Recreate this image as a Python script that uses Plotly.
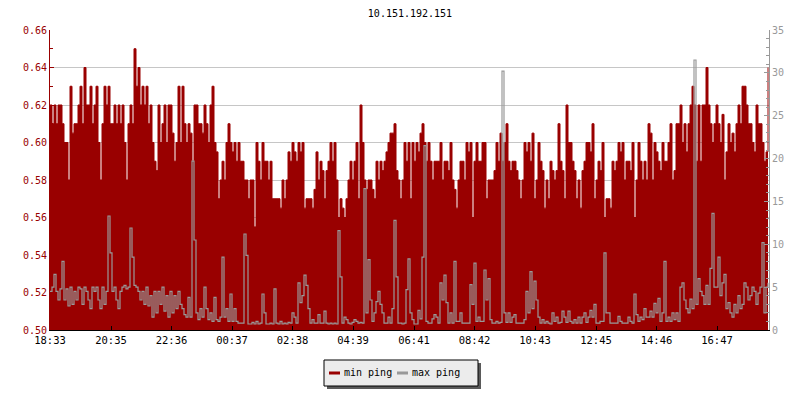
import plotly.graph_objects as go

# ---------------- data ----------------
chart_title = "10.151.192.151"
series_names = ["min ping", "max ping"]
start_label = "18:33"
step_minutes = 4  # one sample every 4 minutes (2 px in the reference)

tick_labels = ["18:33", "20:35", "22:36", "00:37", "02:38", "04:39",
               "06:41", "08:42", "10:43", "12:45", "14:46", "16:47"]

# min ping, in hundredths of a ms (left axis, 0.50 .. 0.66)
min_ping_a = [62, 61, 62, 61, 62, 62, 61, 60, 60, 58, 63, 60.5, 61, 61, 62,
              63, 61, 64, 62, 62, 63, 61, 62, 63, 60, 58, 61, 63, 62, 63,
              61, 61, 62, 61, 62, 61, 62, 60, 58, 61, 62, 61, 65, 63, 64,
              62, 63, 62, 63, 61, 62, 60, 59, 58.5, 62, 60, 61, 62, 60, 62]
min_ping_b = [62, 60.5, 59, 60, 63, 60, 63, 61, 60, 61, 60.5, 59, 62, 62, 61,
              61, 60.5, 62, 61, 60, 62, 63, 60, 59.5, 57, 58, 59, 58, 60, 61,
              60, 59.5, 60, 59, 60, 59, 59, 58, 58, 57, 58, 58, 55.5, 60, 59,
              58, 60, 59, 59, 58, 59, 57, 57, 57, 57, 56.5, 58, 57, 58, 59.5]
min_ping_c = [59, 60, 59.5, 59, 60, 59.5, 60, 56.5, 57, 57, 57, 56.5, 57.5, 59.5, 58,
              59, 58.5, 57, 58.5, 59, 60, 59, 60, 58, 56, 57, 56.5, 56, 57, 58,
              59, 58, 59, 60, 57, 62, 60, 58, 57.5, 58, 58, 57.5, 57, 59, 58,
              59, 58.5, 59, 59.5, 60, 60.5, 60.5, 61, 58.5, 58, 57, 58, 60, 59, 60]
min_ping_d = [57, 60, 59, 60, 59.5, 60.5, 61, 60, 59, 60, 59, 58, 59, 59, 59,
              60, 58, 59, 59, 58.5, 60, 58, 57.5, 56.5, 58, 59, 59, 58, 60, 59.5,
              60, 56, 59, 60, 59, 59, 60, 60, 57, 58, 58, 58, 58.5, 60, 59,
              60.5, 59, 60, 61, 59, 58.5, 59, 59, 58.5, 58, 57, 58, 60, 59.5, 60]
min_ping_e = [59, 60.5, 57, 58, 60, 59, 58.5, 56.5, 58, 57, 59, 58.5, 58, 58.5, 61,
              59, 58.5, 57, 62, 60, 60, 59, 58.5, 57, 58, 56.5, 58.5, 59, 60, 60,
              59.5, 61, 57, 58, 59, 58.5, 60, 56, 57, 57, 56.5, 59, 58.5, 59, 60,
              59.5, 60, 58, 59, 59, 58.5, 60, 56, 58, 60, 59, 58, 59, 58, 61]
min_ping_f = [60.5, 58, 60, 59.5, 59, 58.5, 60, 59, 59, 60, 61, 58, 58.5, 61, 61,
              62, 60, 61, 59.5, 61, 62, 63, 62, 59, 62, 59, 62, 62, 64, 62,
              61, 60, 61, 62, 61, 60, 61.5, 58, 59.5, 61, 60, 60.5, 59.5, 61, 62,
              61, 63, 63, 62, 61, 61, 60, 59.5, 62, 61, 61, 60, 59, 59.5, 64]

# max ping, in ms (right axis, 0 .. 35)
max_ping_a = [4.5, 5, 6.5, 4.5, 3.5, 4.8, 8, 3.5, 4.8, 2.8, 5, 3, 4.5, 3.5, 5,
              4.8, 3, 5, 4.5, 3.5, 2.5, 5, 4.5, 5, 3.5, 2.5, 5, 3, 4.5, 13.3,
              9, 4.5, 5, 3.5, 2.5, 4.5, 5, 5.2, 4.8, 5, 11.9, 8.5, 5.2, 5, 4.5,
              3.5, 4.5, 3, 5, 2.8, 4, 1.5, 4.5, 2, 4.5, 3, 5, 2.2, 4, 1.5]
max_ping_b = [4.5, 2, 4, 2.5, 4.5, 3, 2.5, 1.8, 1.5, 3.8, 1.5, 19.7, 10.5, 2, 1.2,
              2.5, 1.5, 5, 2.5, 1.2, 2, 1, 3.8, 1.2, 1, 1.5, 8.5, 1.5, 2.5, 1,
              4.2, 1, 2.5, 1, 0.8, 0.8, 0.8, 11.2, 8.7, 0.7, 0.7, 0.9, 0.7, 1, 0.7,
              0.8, 4.2, 2, 0.7, 0.7, 0.8, 0.7, 4.8, 0.8, 0.7, 1, 0.7, 0.8, 0.7, 0.9]
max_ping_c = [0.8, 2, 1.5, 0.8, 5.5, 3.2, 4, 6.4, 5.2, 2.5, 0.8, 1.2, 0.8, 0.8, 1.8,
              0.8, 0.8, 2.2, 0.8, 0.7, 0.8, 0.7, 0.8, 0.7, 11.6, 6.2, 0.8, 1.5, 1.2, 0.8,
              0.7, 0.9, 1.2, 1, 0.8, 0.9, 0.8, 16.5, 2, 8.2, 3.5, 1, 2, 3.3, 4.5,
              3, 2, 0.8, 0.8, 1.5, 0.8, 2.5, 12.8, 6.2, 0.8, 0.8, 0.7, 0.8, 4.7, 8.3]
max_ping_d = [2, 1.2, 0.7, 0.7, 2.3, 1.3, 8.5, 21.5, 1, 0.8, 0.8, 1.3, 1.8, 1.5, 0.8,
              5.5, 3.5, 6.4, 3.2, 0.8, 2, 0.8, 8, 1, 1, 2, 0.8, 0.8, 0.8, 0.8,
              5.3, 3, 7.8, 1, 1.5, 1, 1, 7, 3.5, 6, 1.2, 0.8, 0.8, 1, 0.8,
              0.9, 30.2, 2, 0.9, 2, 0.9, 1.5, 1.8, 0.8, 0.8, 0.8, 0.8, 1.2, 4.5, 2]
max_ping_e = [6.8, 2.5, 5.7, 3.5, 1.5, 0.8, 1.2, 0.8, 1, 0.8, 0.7, 2, 1, 1.5, 0.8,
              0.9, 2.2, 1.5, 0.9, 2.2, 1, 0.8, 1.2, 0.8, 1.5, 0.8, 1.5, 2, 0.9, 1.5,
              2.3, 1.5, 3, 0.8, 0.8, 1, 1, 9, 2, 2, 0.8, 0.8, 0.8, 0.8, 1.6,
              1, 0.8, 0.8, 0.8, 1.5, 1, 0.8, 4.2, 1.8, 1, 1.5, 1.2, 2.5, 1.5, 1.5]
max_ping_f = [2.2, 1.5, 3.1, 2, 3.7, 1, 2, 8, 1, 1.5, 1, 2, 1.2, 2, 1,
              5, 5.5, 3.5, 2.5, 2, 3.6, 2.5, 31.5, 3, 6, 4.5, 4, 3, 5.2, 3,
              7.2, 13.6, 5, 5, 8.5, 4, 5.5, 6.5, 2.5, 3.2, 2, 1.5, 3, 2, 4,
              2.5, 3, 5.5, 5, 3.5, 4, 5, 4.5, 3, 4.3, 5, 10.2, 2, 5, 5.5]

# ---------------- assembly ----------------
min_ping = [v / 100 for v in
            min_ping_a + min_ping_b + min_ping_c + min_ping_d + min_ping_e + min_ping_f]
max_ping = max_ping_a + max_ping_b + max_ping_c + max_ping_d + max_ping_e + max_ping_f
minutes = [i * step_minutes for i in range(len(min_ping))]


def minutes_after_start(label):
    h, m = map(int, label.split(":"))
    sh, sm = map(int, start_label.split(":"))
    d = (h * 60 + m) - (sh * 60 + sm)
    return d + 1440 if d < 0 else d


tick_vals = [minutes_after_start(s) for s in tick_labels]

RED = "#990000"
GRAY = "#999999"
FONT = "DejaVu Sans Mono"

# plot-area geometry (pixels)
L, R, T, B = 50, 769, 30, 330
W, H = 800, 400


def px(x):
    return (x - L) / (R - L)


def py(y):
    return (B - y) / (B - T)


fig = go.Figure()
fig.add_trace(go.Scatter(
    x=minutes, y=min_ping, name=series_names[0], mode="lines",
    line=dict(color=RED, width=1, shape="hv"),
    fill="tozeroy", fillcolor=RED, yaxis="y", showlegend=False,
))
fig.add_trace(go.Scatter(
    x=minutes, y=max_ping, name=series_names[1], mode="lines",
    line=dict(color=GRAY, width=1.2, shape="hv"),
    yaxis="y2", showlegend=False,
))

shapes = [
    # legend shadow and box
    dict(type="rect", xref="paper", yref="paper", x0=px(327), x1=px(481),
         y0=py(389), y1=py(363), fillcolor="#5a5a5a", line=dict(width=0), layer="above"),
    dict(type="rect", xref="paper", yref="paper", x0=px(324), x1=px(478),
         y0=py(386), y1=py(360), fillcolor="#ececec", line=dict(color="black", width=1),
         layer="above"),
    dict(type="line", xref="paper", yref="paper", x0=px(329), x1=px(340),
         y0=py(373), y1=py(373), line=dict(color=RED, width=3), layer="above"),
    dict(type="line", xref="paper", yref="paper", x0=px(397), x1=px(408),
         y0=py(373), y1=py(373), line=dict(color=GRAY, width=3), layer="above"),
]
annotations = [
    dict(text=series_names[0], xref="paper", yref="paper", x=px(342), y=py(372),
         xanchor="left", yanchor="middle", showarrow=False,
         font=dict(family=FONT, size=10, color="black")),
    dict(text=series_names[1], xref="paper", yref="paper", x=px(410), y=py(372),
         xanchor="left", yanchor="middle", showarrow=False,
         font=dict(family=FONT, size=10, color="black")),
]

fig.update_layout(
    width=W, height=H,
    margin=dict(l=L, r=W - R, t=T, b=H - B, pad=0),
    paper_bgcolor="white", plot_bgcolor="white",
    font=dict(family=FONT, size=10, color="black"),
    title=dict(text=chart_title, x=px(410), xref="paper", xanchor="center",
               y=1 - 13 / H, yref="container", yanchor="middle",
               font=dict(family=FONT, size=10, color="black")),
    xaxis=dict(
        range=[0, 1438], tickmode="array", tickvals=tick_vals, ticktext=tick_labels,
        ticks="inside", ticklen=4, tickcolor="black", showline=True,
        linecolor="black", linewidth=1, showgrid=False, zeroline=False,
        tickfont=dict(family=FONT, size=10.5, color="black"),
    ),
    yaxis=dict(
        range=[0.50, 0.66], dtick=0.02, tick0=0.50, tickformat=".2f",
        ticks="inside", ticklen=4, tickcolor=RED, showline=True, linecolor=RED,
        linewidth=1, showgrid=True, gridcolor="#c6c6c6", gridwidth=1,
        zeroline=False, tickfont=dict(family=FONT, size=10, color=RED),
        minor=dict(dtick=0.01, ticks="inside", ticklen=3, tickcolor=RED, showgrid=False),
    ),
    yaxis2=dict(
        range=[0, 35], dtick=5, overlaying="y", side="right",
        ticks="inside", ticklen=5, tickcolor=GRAY, showline=True, linecolor=GRAY,
        linewidth=1, showgrid=False, zeroline=False,
        tickfont=dict(family=FONT, size=10, color=GRAY),
        minor=dict(dtick=1, ticks="inside", ticklen=3, tickcolor=GRAY, showgrid=False),
    ),
    shapes=shapes,
    annotations=annotations,
    showlegend=False,
)

fig.write_html("out.html", config={"displayModeBar": False},
               post_script="document.body.style.margin='0';")
